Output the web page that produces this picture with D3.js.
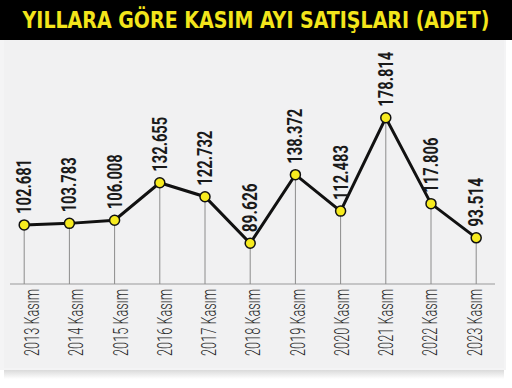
<!DOCTYPE html>
<html><head><meta charset="utf-8">
<script src="https://cdn.jsdelivr.net/npm/d3@7"></script>
<style>
html,body{margin:0;padding:0;background:#fff;}
svg{display:block;}
</style></head>
<body>
<svg id="c" width="512" height="388"></svg>
<script>
const categories = ["2013 Kasım","2014 Kasım","2015 Kasım","2016 Kasım","2017 Kasım","2018 Kasım","2019 Kasım","2020 Kasım","2021 Kasım","2022 Kasım","2023 Kasım"];
const values = [102.681,103.783,106.008,132.655,122.732,89.626,138.372,112.483,178.814,117.806,93.514];
const valueLabels = ["102.681","103.783","106.008","132.655","122.732","89.626","138.372","112.483","178.814","117.806","93.514"];
const title = "YILLARA GÖRE KASIM AYI SATIŞLARI (ADET)";

const svg = d3.select("#c");
const defs = svg.append("defs");
const g1 = defs.append("linearGradient").attr("id","sh").attr("x1",0).attr("x2",0).attr("y1",0).attr("y2",1);
g1.append("stop").attr("offset",0).attr("stop-color","#d6d6d6");
g1.append("stop").attr("offset",1).attr("stop-color","#fff");

// shadow below panel
svg.append("rect").attr("x",4).attr("y",369).attr("width",500).attr("height",10).attr("fill","url(#sh)");
// panel
svg.append("rect").attr("x",0).attr("y",38).attr("width",506).attr("height",332).attr("fill","#f4f4f5");
svg.append("rect").attr("x",4).attr("y",40).attr("width",500).attr("height",328).attr("fill","#f1f1f2");
// title bar
svg.append("rect").attr("x",0).attr("y",0).attr("width",512).attr("height",40).attr("fill","#000");
const tg = svg.append("g");
const tt = tg.append("text").attr("x",0).attr("y",0).attr("text-anchor","middle")
  .attr("font-family","DejaVu Sans Condensed, DejaVu Sans").attr("font-stretch","condensed")
  .attr("font-weight","bold").attr("font-size",23).attr("fill","#f3e51b").text(title);
const tw = tt.node().getComputedTextLength();
tg.attr("transform",`translate(256,28) scale(${467/tw},1)`);

const x = d3.scalePoint().domain(categories).range([24.2,476.2]);
const xl = d3.scalePoint().domain(categories).range([31.7,474]);
const y = d3.scaleLinear().domain([0,200]).range([369.5, 369.5-200*1.408]);
const axisY = 284;

// baseline
svg.append("line").attr("x1",10).attr("x2",495).attr("y1",axisY).attr("y2",axisY)
  .attr("stroke","#9a9a9a").attr("stroke-width",1.2);

// drop lines
svg.append("g").selectAll("line").data(values).join("line")
  .attr("x1",(d,i)=>x(categories[i])).attr("x2",(d,i)=>x(categories[i]))
  .attr("y1",d=>y(d)).attr("y2",axisY)
  .attr("stroke","#8c8c8c").attr("stroke-width",1);

// line
const line = d3.line().x((d,i)=>x(categories[i])).y(d=>y(d));
svg.append("path").datum(values).attr("d",line).attr("fill","none")
  .attr("stroke","#111").attr("stroke-width",3).attr("stroke-linejoin","miter");

// points
svg.append("g").selectAll("circle").data(values).join("circle")
  .attr("cx",(d,i)=>x(categories[i])).attr("cy",d=>y(d)).attr("r",5)
  .attr("fill","#f7eb1f").attr("stroke","#111").attr("stroke-width",1.5);

// value labels
svg.append("g").selectAll("text").data(values).join("text")
  .attr("transform",(d,i)=>`translate(${x(categories[i])+7},${y(d)-11}) rotate(-90)`)
  .attr("font-family","Roboto, DejaVu Sans")
  .attr("font-weight","bold").attr("font-size",20).attr("fill","#1a1a1a")
  .attr("textLength",(d,i)=>valueLabels[i].length===7?55:49).attr("lengthAdjust","spacingAndGlyphs")
  .text((d,i)=>valueLabels[i]);

// category labels
svg.append("g").selectAll("text").data(categories).join("text")
  .attr("transform",d=>`translate(${xl(d)+7.5},${axisY+5}) rotate(-90)`)
  .attr("text-anchor","end")
  .attr("font-family","Roboto, DejaVu Sans")
  .attr("font-weight","300").attr("font-size",20.5).attr("fill","#2a2a2a")
  .attr("textLength",67).attr("lengthAdjust","spacingAndGlyphs")
  .text(d=>d);
</script>
</body></html>
